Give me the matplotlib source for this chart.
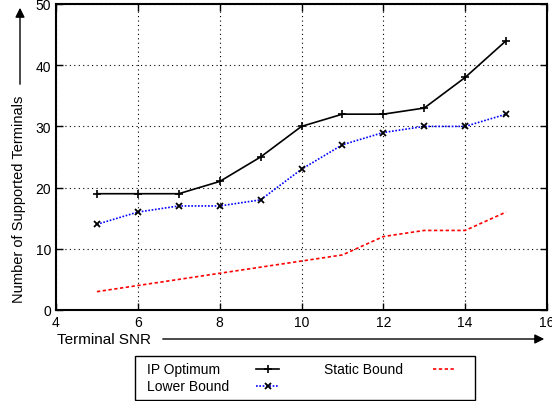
import matplotlib
matplotlib.use("Agg")
import matplotlib.pyplot as plt
from matplotlib.lines import Line2D
from matplotlib.patches import Rectangle, FancyArrowPatch

snr = [5, 6, 7, 8, 9, 10, 11, 12, 13, 14, 15]
ip_optimum = [19, 19, 19, 21, 25, 30, 32, 32, 33, 38, 44]
lower_bound = [14, 16, 17, 17, 18, 23, 27, 29, 30, 30, 32]
static_bound = [3, 4, 5, 6, 7, 8, 9, 12, 13, 13, 16]
labels = ['IP Optimum', 'Lower Bound', 'Static Bound']

plt.rcParams['font.family'] = ['Liberation Sans', 'DejaVu Sans']
plt.rcParams['font.size'] = 10

W, H = 552, 402
fig = plt.figure(figsize=(W / 100, H / 100), dpi=100)
ax = fig.add_axes([56/W, 91/H, 491/W, 306/H])

styles = [
    dict(color='black', lw=1.2, marker='+', ms=6, mew=1.2),
    dict(color='blue', lw=1.2, ls=(0, (1, 1)), marker='x', ms=5, mew=1.3, mec='black'),
    dict(color='red', lw=1.2, ls=(0, (2, 1.5))),
]
for ys, lab, st in zip([ip_optimum, lower_bound, static_bound], labels, styles):
    ax.plot(snr, ys, label=lab, **st)

ax.set_xlim(4, 16)
ax.set_ylim(0, 50)
ax.set_xticks(range(4, 17, 2))
ax.set_yticks(range(0, 51, 10))
ax.grid(True, color='black', ls=(0, (1, 3)), lw=0.8)
ax.tick_params(direction='in', top=True, right=True, length=5, width=1)
for s in ax.spines.values():
    s.set_linewidth(1.5)


def fx(px):
    return px / W


def fy(py):
    return 1 - py / H


fig.text(fx(57), fy(340), 'Terminal SNR', fontsize=11, va='center', ha='left')
fig.text(fx(19), fy(199), 'Number of Supported Terminals', fontsize=10.5,
         rotation=90, va='center', ha='center')

fig.add_artist(FancyArrowPatch((fx(160), fy(340)), (fx(547), fy(340)),
                               transform=fig.transFigure, arrowstyle='-|>',
                               mutation_scale=14, color='black', lw=1))
fig.add_artist(FancyArrowPatch((fx(20), fy(88)), (fx(20), fy(6)),
                               transform=fig.transFigure, arrowstyle='-|>',
                               mutation_scale=14, color='black', lw=1))

# legend box drawn by hand (text left, sample right)
fig.add_artist(Rectangle((fx(135), fy(401)), fx(475) - fx(135), fy(357) - fy(401),
                         transform=fig.transFigure, fill=False,
                         edgecolor='black', lw=1))
entries = [(147, 370, 256), (147, 387, 256), (324, 370, 433)]
for (tx, ty, hx), lab, st in zip(entries, labels, styles):
    fig.text(fx(tx), fy(ty), lab, fontsize=10, va='center', ha='left')
    line_st = {k: v for k, v in st.items() if k not in ('marker', 'ms', 'mew', 'mec')}
    fig.add_artist(Line2D([fx(hx), fx(hx + 23)], [fy(ty), fy(ty)],
                          transform=fig.transFigure, **line_st))
    if 'marker' in st:
        fig.add_artist(Line2D([fx(hx + 11.5)], [fy(ty)], transform=fig.transFigure,
                              ls='none', marker=st['marker'], ms=st['ms'],
                              mew=st['mew'], mec=st.get('mec', st['color']),
                              color=st['color']))

fig.savefig('out.png', dpi=100)
